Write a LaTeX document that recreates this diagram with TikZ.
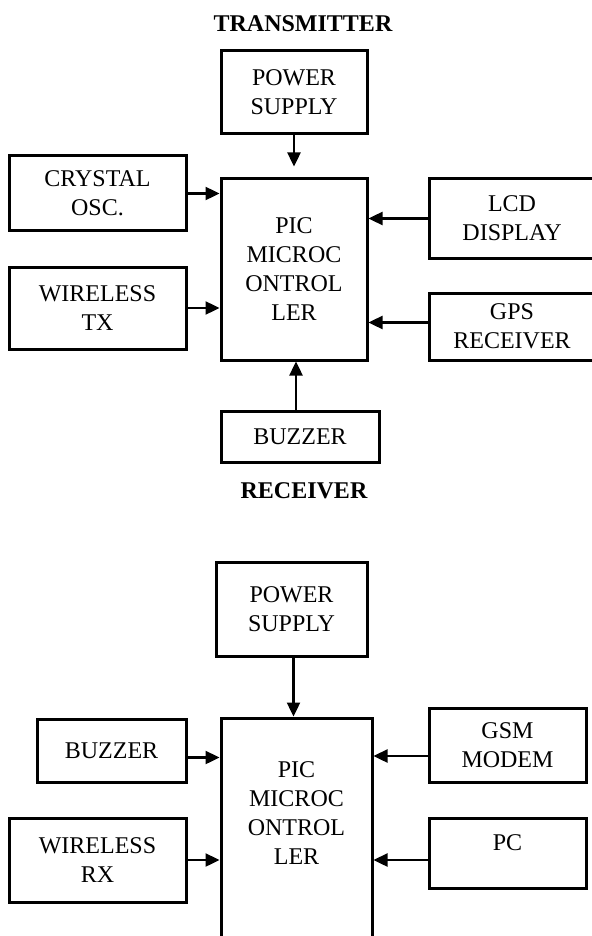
\documentclass[tikz,border=0pt]{standalone}
\usepackage{fontspec}
\setmainfont{Liberation Serif}
\usetikzlibrary{arrows.meta}

\begin{document}
\begin{tikzpicture}[x=0.5pt, y=-0.5pt, >={Triangle[length=7pt, width=6.5pt]},
  font=\fontsize{12}{14.5}\selectfont,
  blk/.style={draw, line width=1.5pt, align=center, inner sep=2pt},
  arr/.style={->, line width=1.2pt},
  ttl/.style={font=\fontsize{12}{14.5}\selectfont\bfseries}]
  \useasboundingbox (0,0) rectangle (592,936);
  \clip (0,0) rectangle (592,936);
  % transmitter
  \node[ttl] (txttl) at (303,24) {TRANSMITTER};
  \node[blk, minimum width=73pt, minimum height=41.5pt] (pwrA) at (294,92.5) {POWER\\SUPPLY};
  \node[blk, minimum width=73pt, minimum height=90.5pt] (picA) at (294,269.5) {PIC\\MICROC\\ONTROL\\LER};
  \node[blk, minimum width=88.5pt, minimum height=37.5pt] (xtal) at (97.5,193.5) {CRYSTAL\\OSC.};
  \node[blk, minimum width=88.5pt, minimum height=41pt] (wtx) at (97.5,308) {WIRELESS\\TX};
  \node[blk, minimum width=83pt, minimum height=39.5pt] (lcd) at (512,218.5) {LCD\\DISPLAY};
  \node[blk, minimum width=83pt, minimum height=33.5pt] (gps) at (512,326.5) {GPS\\RECEIVER};
  \node[blk, minimum width=79pt, minimum height=25.5pt] (buzA) at (300,436.5) {BUZZER};
  \draw[arr, shorten >=5.5pt] (pwrA) -- (picA);
  \draw[arr] (xtal.east) -- (xtal.east -| picA.west);
  \draw[arr] (wtx.east) -- (wtx.east -| picA.west);
  \draw[arr] (lcd.west) -- (lcd.west -| picA.east);
  \draw[arr] ([yshift=2pt]gps.west) -- ([yshift=2pt]gps.west -| picA.east);
  \draw[arr] ([xshift=-2pt]buzA.north) -- ([xshift=-2pt]buzA.north |- picA.south);
  % receiver
  \node[ttl] (rxttl) at (304,491) {RECEIVER};
  \node[blk, minimum width=75.5pt, minimum height=47pt] (pwrB) at (291.5,609) {POWER\\SUPPLY};
  \node[blk, minimum width=75.5pt, minimum height=130pt] (picB) at (296.5,848) {};
  \node[align=center] (picBtxt) at (296.5,813) {PIC\\MICROC\\ONTROL\\LER};
  \node[blk, minimum width=74.5pt, minimum height=31.5pt] (bzB) at (111.5,750.5) {BUZZER};
  \node[blk, minimum width=88.5pt, minimum height=42pt] (wrx) at (97.5,860) {WIRELESS\\RX};
  \node[blk, minimum width=78.5pt, minimum height=37pt] (gsm) at (507.5,745) {GSM\\MODEM};
  \node[blk, minimum width=78.5pt, minimum height=35pt] (pc) at (507.5,853) {\raisebox{10pt}{PC}};
  \draw[arr] ([xshift=1pt]pwrB.south) -- ([xshift=1pt]pwrB.south |- picB.north);
  \draw[arr] ([yshift=-3.5pt]bzB.east) -- ([yshift=-3.5pt]bzB.east -| picB.west);
  \draw[arr] (wrx.east) -- (wrx.east -| picB.west);
  \draw[arr] ([yshift=-5.5pt]gsm.west) -- ([yshift=-5.5pt]gsm.west -| picB.east);
  \draw[arr] ([yshift=-3.5pt]pc.west) -- ([yshift=-3.5pt]pc.west -| picB.east);
\end{tikzpicture}
\end{document}
